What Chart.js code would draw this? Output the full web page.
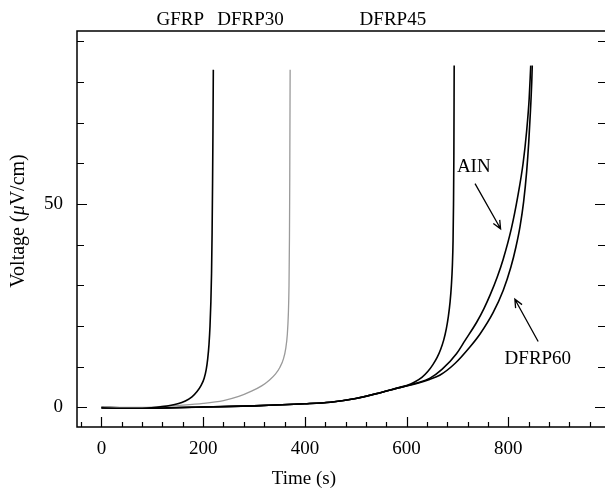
<!DOCTYPE html>
<html>
<head>
<meta charset="utf-8">
<title>Voltage vs time</title>
<script src="https://cdn.jsdelivr.net/npm/chart.js@4.4.1/dist/chart.umd.min.js"></script>
<style>
  html, body { margin: 0; padding: 0; background: #fff; }
</style>
</head>
<body>
<canvas id="voltChart" width="605" height="491"></canvas>
<script>
  // series: time (s) and voltage (uV/cm)
  const gfrpTime = [0, 40, 80, 120, 150, 165, 178, 188, 196, 202, 206, 209, 211.5, 213.5, 215.2, 216.5, 217.6, 218.5, 219.3, 220];
  const gfrpVolt = [-0.1, -0.2, -0.2, 0.2, 0.9, 1.6, 2.6, 3.9, 5.4, 7.2, 9.3, 12, 15.5, 20, 26, 33, 43, 55, 68, 83];

  const dfrp30Time = [0, 50, 100, 150, 200, 240, 270, 295, 315, 330, 342, 351, 358, 362.5, 365.5, 367.5, 368.8, 369.7, 370.3, 371];
  const dfrp30Volt = [0, 0, 0.1, 0.5, 1.0, 1.7, 2.7, 4.0, 5.3, 6.7, 8.2, 9.9, 12, 14.6, 18, 23, 30, 42, 57, 83];

  const dfrp45Time = [0, 50, 100, 200, 300, 400, 450, 500, 550, 585, 600, 615, 630, 642, 652, 660, 667, 673, 678, 682, 685.5, 688, 690, 691.3, 692.2, 692.9, 693.5];
  const dfrp45Volt = [0, -0.1, -0.1, 0.1, 0.4, 0.9, 1.3, 2.2, 3.7, 4.9, 5.4, 6.2, 7.4, 8.9, 10.6, 12.3, 14.3, 16.6, 19.3, 22.3, 26, 30, 35, 41, 50, 62, 84];

  const ainTime = [0, 50, 100, 200, 300, 400, 450, 500, 550, 590, 620, 646, 670, 698, 715, 738, 752, 764, 778, 790, 806, 818, 829, 836, 841, 844];
  const ainVolt = [0, -0.1, -0.1, 0.1, 0.4, 0.9, 1.3, 2.2, 3.7, 5.0, 6.0, 7.2, 9.4, 13.2, 16.5, 21, 24.3, 27.6, 32, 36.5, 44, 51.5, 60, 68, 76, 84];

  const dfrp60Time = [0, 50, 100, 200, 300, 400, 450, 500, 550, 590, 620, 645, 665, 695, 724, 744, 770, 790, 805, 815, 823, 830, 836, 840, 843.5, 846, 847];
  const dfrp60Volt = [0, -0.2, -0.2, 0.1, 0.4, 0.9, 1.3, 2.2, 3.7, 5.0, 5.9, 6.9, 7.9, 10.8, 14.8, 18, 23.3, 28.8, 34.5, 39.5, 44.5, 50.5, 58, 65, 73, 80, 84];

  const xTickValues = [0, 200, 400, 600, 800];
  const yTickValues = [0, 50];

  // labels placed in data coordinates
  const topLabels = ['GFRP', 'DFRP30', 'DFRP45'];
  const topLabelTime = [155, 293, 573];
  const ainLabel = { text: 'AIN', t: 732, v: 59, from: [734.5, 55], to: [784.7, 43.9] };
  const dfrp60Label = { text: 'DFRP60', t: 858, v: 11.8, from: [858.6, 16.2], to: [812.8, 26.6] };

  const FONT = '"Liberation Serif", "DejaVu Serif", serif';

  function pairs(ts, vs) {
    return ts.map((t, i) => ({ x: t, y: vs[i] }));
  }

  function drawArrow(ctx, x1, y1, x2, y2) {
    const ang = Math.atan2(y2 - y1, x2 - x1);
    const head = 9, spread = 0.42;
    ctx.beginPath();
    ctx.moveTo(x1, y1);
    ctx.lineTo(x2, y2);
    ctx.moveTo(x2 - head * Math.cos(ang - spread), y2 - head * Math.sin(ang - spread));
    ctx.lineTo(x2, y2);
    ctx.lineTo(x2 - head * Math.cos(ang + spread), y2 - head * Math.sin(ang + spread));
    ctx.stroke();
  }

  const framePlugin = {
    id: 'framePlugin',
    afterDraw(chart) {
      const { ctx, chartArea: a, scales: { x, y } } = chart;
      ctx.save();
      ctx.strokeStyle = '#000';
      ctx.lineWidth = 1.5;
      ctx.beginPath();
      ctx.moveTo(a.right + 2, a.top);
      ctx.lineTo(a.left, a.top);
      ctx.lineTo(a.left, a.bottom);
      ctx.lineTo(a.right + 2, a.bottom);
      ctx.stroke();

      // inward ticks
      ctx.lineWidth = 1.2;
      ctx.beginPath();
      for (let v = -40; v <= 960; v += 40) {
        const px = Math.round(x.getPixelForValue(v)) + 0.5;
        const len = v % 200 === 0 ? 10 : 5;
        ctx.moveTo(px, a.bottom);
        ctx.lineTo(px, a.bottom - len);
      }
      for (let v = 0; v <= 90; v += 10) {
        const py = Math.round(y.getPixelForValue(v)) + 0.5;
        const len = v % 50 === 0 ? 10 : 7;
        ctx.moveTo(a.left, py);
        ctx.lineTo(a.left + len, py);
        ctx.moveTo(a.right, py);
        ctx.lineTo(a.right - len, py);
      }
      ctx.stroke();

      ctx.fillStyle = '#000';
      ctx.font = '19px ' + FONT;
      ctx.textAlign = 'center';
      ctx.textBaseline = 'middle';
      topLabels.forEach((s, i) => {
        ctx.fillText(s, x.getPixelForValue(topLabelTime[i]), a.top - 11);
      });

      [ainLabel, dfrp60Label].forEach(l => {
        ctx.fillText(l.text, x.getPixelForValue(l.t), y.getPixelForValue(l.v));
        ctx.lineWidth = 1.3;
        drawArrow(ctx,
          x.getPixelForValue(l.from[0]), y.getPixelForValue(l.from[1]),
          x.getPixelForValue(l.to[0]), y.getPixelForValue(l.to[1]));
      });

      // x title
      ctx.fillText('Time (s)', x.getPixelForValue(398), 479);

      // y title with italic mu
      const parts = [['Voltage (', ''], ['\u03bc', 'italic '], ['V/cm)', '']];
      let total = 0;
      parts.forEach(p => { ctx.font = p[1] + '20px ' + FONT; p.push(ctx.measureText(p[0]).width); total += p[2]; });
      ctx.translate(19, 221);
      ctx.rotate(-Math.PI / 2);
      ctx.textAlign = 'left';
      let cx = -total / 2;
      parts.forEach(p => {
        ctx.font = p[1] + '20px ' + FONT;
        ctx.fillText(p[0], cx, 0);
        cx += p[2];
      });
      ctx.restore();
    }
  };

  const black = '#000000';
  const grey = '#9a9a9a';

  function series(label, ts, vs, color, width) {
    return {
      label: label,
      data: pairs(ts, vs),
      borderColor: color,
      borderWidth: width,
      pointRadius: 0,
      fill: false,
      cubicInterpolationMode: 'monotone'
    };
  }

  new Chart(document.getElementById('voltChart'), {
    type: 'line',
    data: {
      datasets: [
        series('GFRP', gfrpTime, gfrpVolt, black, 1.6),
        series('DFRP30', dfrp30Time, dfrp30Volt, grey, 1.3),
        series('DFRP45', dfrp45Time, dfrp45Volt, black, 1.6),
        series('AIN', ainTime, ainVolt, black, 1.6),
        series('DFRP60', dfrp60Time, dfrp60Volt, black, 1.6)
      ]
    },
    options: {
      responsive: false,
      animation: false,
      devicePixelRatio: 1,
      layout: { padding: { top: 31, right: 0, left: 0, bottom: 0 } },
      plugins: { legend: { display: false }, tooltip: { enabled: false } },
      scales: {
        x: {
          type: 'linear',
          min: -48,
          max: 990,
          grid: { display: false, drawTicks: false },
          border: { display: false },
          ticks: { color: '#000', font: { family: FONT, size: 19 }, padding: 11 },
          afterBuildTicks: s => { s.ticks = xTickValues.map(v => ({ value: v })); },
          afterFit: s => { s.height = 64; }
        },
        y: {
          type: 'linear',
          min: -4.8,
          max: 92.5,
          grid: { display: false, drawTicks: false },
          border: { display: false },
          ticks: { color: '#000', font: { family: FONT, size: 19 }, padding: 14 },
          afterBuildTicks: s => { s.ticks = yTickValues.map(v => ({ value: v })); },
          afterFit: s => { s.width = 77; }
        }
      }
    },
    plugins: [framePlugin]
  });
</script>
</body>
</html>
